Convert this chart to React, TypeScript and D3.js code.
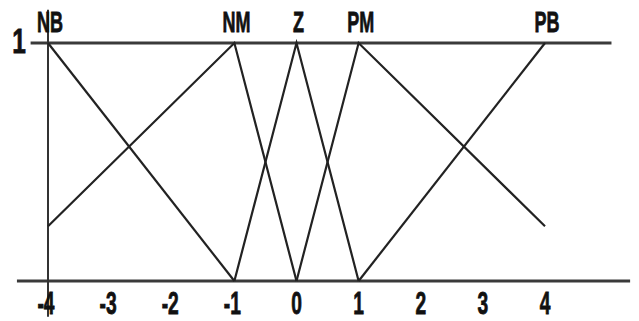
import React, { useEffect, useRef } from "react";
import * as d3 from "d3";

// fuzzy sets: breakpoints (x) and membership (y)
const setNames = ["NB", "NM", "Z", "PM", "PB"];
const setPeaks = [-4, -1, 0, 1, 4];
const nbX = [-4, -1];
const nbY = [1, 0];
const nmX = [-4, -1, 0];
const nmY = [0.23, 1, 0];
const zX = [-1, 0, 1];
const zY = [0, 1, 0];
const pmX = [0, 1, 4];
const pmY = [0, 1, 0.23];
const pbX = [1, 4];
const pbY = [0, 1];
const xTicks = [-4, -3, -2, -1, 0, 1, 2, 3, 4];
const yTicks = [1];

const W = 639;
const H = 321;

const App = () => {
  const svgRef = useRef<SVGSVGElement>(null);

  useEffect(() => {
    const svg = d3.select(svgRef.current);
    svg.selectAll("*").remove();

    const x = d3.scaleLinear().domain([-4, 4]).range([48, 545]);
    const y = d3.scaleLinear().domain([0, 1]).range([281, 43]);

    const g = svg.append("g");

    // top (membership = 1) line and baseline
    g.append("line")
      .attr("x1", x(-4.28)).attr("x2", x(5.07))
      .attr("y1", y(1)).attr("y2", y(1))
      .attr("stroke", "#3a3a3a").attr("stroke-width", 3);
    g.append("line")
      .attr("x1", x(-4.5)).attr("x2", x(5.37))
      .attr("y1", y(0)).attr("y2", y(0))
      .attr("stroke", "#3a3a3a").attr("stroke-width", 3);
    // vertical axis
    g.append("line")
      .attr("x1", x(-4)).attr("x2", x(-4))
      .attr("y1", y(1.14)).attr("y2", y(-0.15))
      .attr("stroke", "#333").attr("stroke-width", 2);

    const sets = [
      [nbX, nbY],
      [nmX, nmY],
      [zX, zY],
      [pmX, pmY],
      [pbX, pbY],
    ];
    const line = d3
      .line<[number, number]>()
      .x((d) => x(d[0]))
      .y((d) => y(d[1]));

    sets.forEach(([xs, ys]) => {
      g.append("path")
        .datum(xs.map((v, i) => [v, ys[i]] as [number, number]))
        .attr("d", line)
        .attr("fill", "none")
        .attr("stroke", "#222")
        .attr("stroke-width", 2.2)
        .attr("stroke-linejoin", "miter");
    });

    const font = "'Liberation Sans', Arial, sans-serif";

    // set labels
    g.selectAll(".setlabel")
      .data(setNames)
      .enter()
      .append("text")
      .attr("class", "setlabel")
      .attr("transform", (d, i) => `translate(${x(setPeaks[i]) + 2},${y(1) - 11}) scale(0.6,1)`)
      .attr("text-anchor", "middle")
      .attr("font-family", font)
      .attr("font-weight", "bold")
      .attr("font-size", 30)
      .attr("fill", "#111")
      .attr("stroke", "#111")
      .attr("stroke-width", 0.8)
      .text((d) => d);

    // x tick labels
    g.selectAll(".xtick")
      .data(xTicks)
      .enter()
      .append("text")
      .attr("class", "xtick")
      .attr("transform", (d) => `translate(${x(d) - (d < 0 ? 2 : 0)},${y(0) + 33}) scale(0.62,1)`)
      .attr("text-anchor", "middle")
      .attr("font-family", font)
      .attr("font-weight", "bold")
      .attr("font-size", 31)
      .attr("fill", "#111")
      .attr("stroke", "#111")
      .attr("stroke-width", 0.8)
      .text((d) => String(d));

    // y tick label
    g.selectAll(".ytick")
      .data(yTicks)
      .enter()
      .append("text")
      .attr("class", "ytick")
      .attr("transform", (d) => `translate(19,${y(d) + 10}) scale(0.7,1)`)
      .attr("text-anchor", "middle")
      .attr("font-family", font)
      .attr("font-weight", "bold")
      .attr("font-size", 35)
      .attr("fill", "#111")
      .attr("stroke", "#111")
      .attr("stroke-width", 0.8)
      .text((d) => String(d));
  }, []);

  return (
    <svg
      ref={svgRef}
      width={W}
      height={H}
      style={{ position: "absolute", left: 0, top: 0, background: "#fff" }}
    ></svg>
  );
};

export default App;
